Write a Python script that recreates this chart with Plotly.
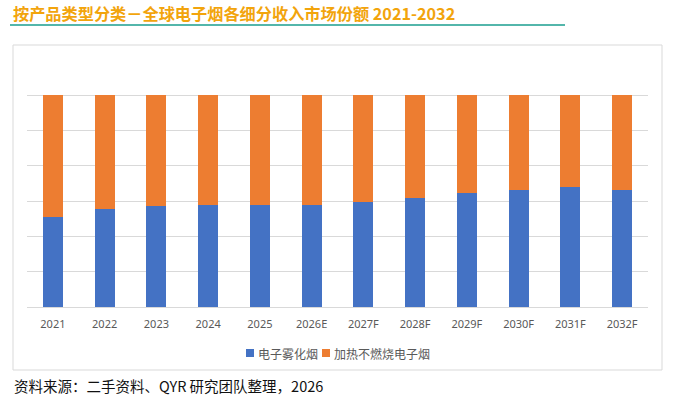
import plotly.graph_objects as go

years = ["2021", "2022", "2023", "2024", "2025", "2026E", "2027F", "2028F",
         "2029F", "2030F", "2031F", "2032F"]
series_names = ["电子雾化烟", "加热不燃烧电子烟"]
vape_share = [42.6, 46.2, 47.8, 48.3, 48.4, 48.4, 49.5, 51.5, 53.9, 55.3, 56.7, 55.3]
htp_share = [57.4, 53.8, 52.2, 51.7, 51.6, 51.6, 50.5, 48.5, 46.1, 44.7, 43.3, 44.7]
colors = ["#4472C4", "#ED7D31"]

title_text = "按产品类型分类－全球电子烟各细分收入市场份额 2021-2032"
source_text = "资料来源：二手资料、QYR 研究团队整理，2026"

W, H = 679, 397
L, R, T, B = 27, 648, 60, 307
pw, ph = R - L, B - T

def px_x(x):
    return (x - L) / pw

def px_y(y):
    return (B - y) / ph

fig = go.Figure()
for name, vals, col in zip(series_names, [vape_share, htp_share], colors):
    fig.add_trace(go.Bar(x=years, y=vals, name=name, marker_color=col,
                         marker_line_width=0, showlegend=False))

fig.update_layout(
    width=W, height=H,
    margin=dict(l=L, r=W - R, t=T, b=H - B, pad=0, autoexpand=False),
    barmode="stack", bargap=0.61,
    plot_bgcolor="white", paper_bgcolor="white",
    font=dict(family="Noto Sans CJK SC, Noto Sans, sans-serif", color="#595959"),
    showlegend=False,
    xaxis=dict(showgrid=False, showline=False, zeroline=False,
               tickfont=dict(size=11, color="#595959",
                             family="Noto Sans, sans-serif"),
               ticks="", ticklabelstandoff=9),
    yaxis=dict(range=[0, 100 * 7 / 6 + 0.05], tick0=0, dtick=100 / 6,
               showticklabels=False, showgrid=True, gridcolor="#D9D9D9",
               gridwidth=1, zeroline=True, zerolinecolor="#D9D9D9",
               zerolinewidth=1, showline=False, ticks=""),
)

# outer chart border
fig.add_shape(type="rect", xref="paper", yref="paper",
              x0=px_x(13), x1=px_x(662), y0=px_y(370), y1=px_y(45),
              line=dict(color="#D9D9D9", width=1), fillcolor="rgba(0,0,0,0)",
              layer="below")
# title underline
fig.add_shape(type="line", xref="paper", yref="paper",
              x0=px_x(10), x1=px_x(565), y0=px_y(25), y1=px_y(25),
              line=dict(color="#1A9E8F", width=1.5))

# legend (swatch + label per series)
legend_pos = [(246, 257), (322, 333)]
for (sx, tx), name, col in zip(legend_pos, series_names, colors):
    fig.add_shape(type="rect", xref="paper", yref="paper",
                  x0=px_x(sx), x1=px_x(sx + 8), y0=px_y(357), y1=px_y(349),
                  line=dict(width=0), fillcolor=col)
    fig.add_annotation(text=name, xref="paper", yref="paper",
                       x=px_x(tx - 1), y=px_y(353), xanchor="left",
                       yanchor="middle", showarrow=False,
                       font=dict(size=12, color="#595959"))

fig.add_annotation(text="<b>" + title_text + "</b>", xref="paper", yref="paper",
                   x=px_x(11), y=px_y(12.5), xanchor="left", yanchor="middle",
                   showarrow=False,
                   font=dict(size=16.2, color="#F2A40C",
                             family="Noto Sans CJK SC, sans-serif"))
fig.add_annotation(text=source_text, xref="paper", yref="paper",
                   x=px_x(12), y=px_y(385), xanchor="left", yanchor="middle",
                   showarrow=False,
                   font=dict(size=14.5, color="#111111",
                             family="Noto Sans CJK SC, sans-serif"))

fig.write_html("out.html", config={"displayModeBar": False},
               post_script="document.body.style.margin='0px';")
